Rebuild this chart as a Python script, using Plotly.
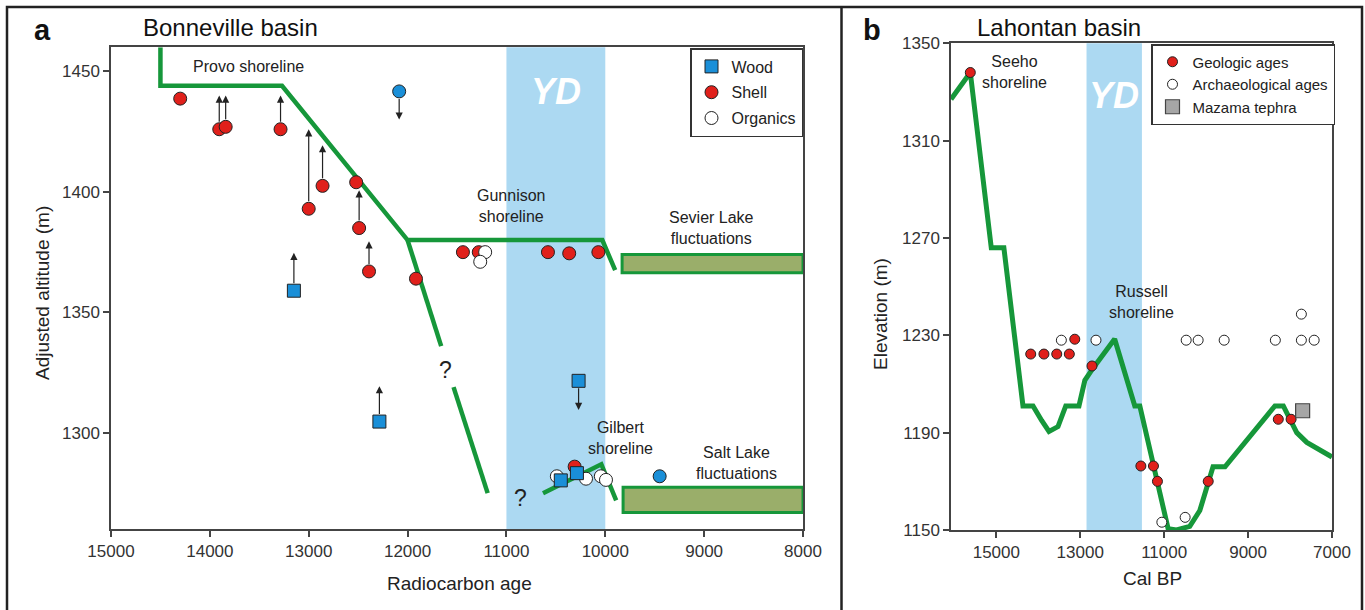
import plotly.graph_objects as go

W, H = 1365, 610
FONT = "Liberation Sans, Arial, sans-serif"
GREEN = "#16973a"
RED = "#e0201b"
BLUE = "#1a8fd8"
YD_COLOR = "#acd9f2"
FILL = "#9aae6a"
AXC = "#444444"

# ---------------- Panel a: Bonneville basin ----------------
YD_A = [11000, 10000]
provo_x = [14500, 14500, 13270, 12000, 10030, 9900]
provo_y = [1460, 1444, 1444, 1380, 1380, 1367.5]
desc1_x = [12000, 11660]
desc1_y = [1380, 1336]
desc2_x = [11535, 11190]
desc2_y = [1319, 1275]
gilbert_x = [10630, 10040, 9890]
gilbert_y = [1275, 1287, 1272]

sevier_x = [9830, 8000]
sevier_y = [1366.5, 1374]
saltlake_x = [9820, 8000]
saltlake_y = [1267, 1277.4]

shell_x = [14300, 13905, 13840, 13285, 13000, 12860, 12520, 12490, 12390, 11915,
           11440, 11280, 10580, 10365, 10070, 10310]
shell_y = [1438.7, 1426, 1427, 1426, 1393, 1402.5, 1404, 1385, 1367, 1364,
           1375, 1375, 1375, 1374.5, 1375, 1286]
organics_x = [11215, 11265, 10490, 10195, 10045, 9993]
organics_y = [1375, 1371, 1282, 1281, 1282, 1280.5]
wood_x = [13150, 12285, 10270, 10450, 10287]
wood_y = [1359, 1304.7, 1321.6, 1280.3, 1283.3]
bluecirc_x = [12085, 9450]
bluecirc_y = [1441.7, 1282]

arrow_x = [13905, 13840, 13285, 13000, 12860, 12490, 12390, 13150, 12285, 12085, 10270]
arrow_from = [1426, 1427, 1426, 1393, 1402.5, 1385, 1367, 1359, 1304.7, 1441.7, 1321.6]
arrow_to = [1440, 1440, 1440, 1426, 1419.4, 1400.7, 1379.5, 1374.7, 1319.4, 1430, 1309.5]

xticks_a = [15000, 14000, 13000, 12000, 11000, 10000, 9000, 8000]
yticks_a = [1300, 1350, 1400, 1450]

# ---------------- Panel b: Lahontan basin ----------------
YD_B = [12850, 11530]
lah_x = [16080, 15620, 15120, 14820, 14365, 14125, 13920, 13745, 13530, 13345, 13030,
         12890, 12695, 12180, 11700, 11580, 10905, 10705, 10390, 10150, 9835, 9550,
         8360, 8160, 7840, 7600, 7000]
lah_y = [1327, 1338, 1266, 1266, 1201, 1201, 1195, 1190.5, 1192.5, 1201, 1201,
         1211.5, 1216.5, 1228.5, 1201, 1201, 1150.5, 1150, 1151.5, 1158, 1176, 1176,
         1201, 1201, 1190, 1186, 1180]
geo_x = [15620, 14180, 13865, 13560, 13260, 13130, 12720, 11555, 11255, 11160, 9950, 8280, 7975]
geo_y = [1338, 1222.3, 1222.3, 1222.3, 1222.3, 1228.4, 1217.4, 1176.3, 1176.3, 1170, 1170,
         1195.5, 1195.5]
arch_x = [13450, 12625, 10475, 10190, 9570, 8350, 7730, 7425, 7730, 11055, 10500]
arch_y = [1228, 1228, 1228, 1228, 1228, 1228, 1228, 1228, 1238.7, 1153.2, 1155.2]
mazama_x = [7700]
mazama_y = [1199]

xticks_b = [15000, 13000, 11000, 9000, 7000]
yticks_b = [1150, 1190, 1230, 1270, 1310, 1350]

fig = go.Figure()

def line(x, y, xa, ya, w):
    fig.add_trace(go.Scatter(x=x, y=y, mode="lines", xaxis=xa, yaxis=ya,
                             line=dict(color=GREEN, width=w), showlegend=False,
                             hoverinfo="skip"))

line(provo_x, provo_y, "x", "y", 4.5)
line(desc1_x, desc1_y, "x", "y", 4.5)
line(desc2_x, desc2_y, "x", "y", 4.5)
line(gilbert_x, gilbert_y, "x", "y", 4.5)
line(lah_x, lah_y, "x2", "y2", 5)

outline = dict(color="#222222", width=1)
fig.add_trace(go.Scatter(x=shell_x, y=shell_y, mode="markers", name="Shell",
                         xaxis="x", yaxis="y", legend="legend", legendgroup="s",
                         legendrank=2,
                         marker=dict(symbol="circle", size=13, color=RED, line=outline)))
fig.add_trace(go.Scatter(x=organics_x, y=organics_y, mode="markers", name="Organics",
                         xaxis="x", yaxis="y", legend="legend", legendgroup="o",
                         legendrank=3,
                         marker=dict(symbol="circle", size=13, color="white", line=outline)))
fig.add_trace(go.Scatter(x=bluecirc_x, y=bluecirc_y, mode="markers", showlegend=False,
                         xaxis="x", yaxis="y",
                         marker=dict(symbol="circle", size=13, color=BLUE, line=outline)))
fig.add_trace(go.Scatter(x=wood_x, y=wood_y, mode="markers", name="Wood",
                         xaxis="x", yaxis="y", legend="legend", legendgroup="w",
                         legendrank=1,
                         marker=dict(symbol="square", size=13, color=BLUE, line=outline)))

fig.add_trace(go.Scatter(x=geo_x, y=geo_y, mode="markers", name="Geologic ages",
                         xaxis="x2", yaxis="y2", legend="legend2", legendgroup="g",
                         legendrank=1,
                         marker=dict(symbol="circle", size=10, color=RED, line=outline)))
fig.add_trace(go.Scatter(x=arch_x, y=arch_y, mode="markers", name="Archaeological ages",
                         xaxis="x2", yaxis="y2", legend="legend2", legendgroup="ar",
                         legendrank=2,
                         marker=dict(symbol="circle", size=10, color="white", line=outline)))
fig.add_trace(go.Scatter(x=mazama_x, y=mazama_y, mode="markers", name="Mazama tephra",
                         xaxis="x2", yaxis="y2", legend="legend2", legendgroup="m",
                         legendrank=3,
                         marker=dict(symbol="square", size=14, color="#a6a6a6",
                                     line=dict(color="#444444", width=1.2))))

shapes = []
# YD bands
shapes.append(dict(type="rect", xref="x", yref="y domain", x0=YD_A[0], x1=YD_A[1],
                   y0=0, y1=1, fillcolor=YD_COLOR, line=dict(width=0), layer="below"))
shapes.append(dict(type="rect", xref="x2", yref="y2 domain", x0=YD_B[0], x1=YD_B[1],
                   y0=0, y1=1, fillcolor=YD_COLOR, line=dict(width=0), layer="below"))
# Lake fluctuation boxes
for bx, by in [(sevier_x, sevier_y), (saltlake_x, saltlake_y)]:
    shapes.append(dict(type="rect", xref="x", yref="y", x0=bx[0], x1=bx[1],
                       y0=by[0], y1=by[1], fillcolor=FILL,
                       line=dict(color=GREEN, width=3), layer="above"))
# outer frame and divider
shapes.append(dict(type="rect", xref="paper", yref="paper", x0=7 / W, x1=1362 / W,
                   y0=-0.1, y1=1 - 7 / H, line=dict(color="#222222", width=2.5)))
shapes.append(dict(type="line", xref="paper", yref="paper", x0=841.5 / W, x1=841.5 / W,
                   y0=-0.1, y1=1 - 7 / H, line=dict(color="#222222", width=2.5)))

ann = []
# arrows
for ax_, y0, y1 in zip(arrow_x, arrow_from, arrow_to):
    ann.append(dict(x=ax_, y=y1, ax=ax_, ay=y0, xref="x", yref="y", axref="x", ayref="y",
                    text="", showarrow=True, arrowhead=2, arrowsize=1.2, arrowwidth=1.2,
                    arrowcolor="#222222", startstandoff=6))

def txt(text, x, y, xref, yref, size=16, color="#222222", **kw):
    d = dict(text=text, x=x, y=y, xref=xref, yref=yref, showarrow=False,
             xanchor="center", yanchor="middle",
             font=dict(family=FONT, size=size, color=color))
    d.update(kw)
    ann.append(d)

# panel a texts
txt("Provo shoreline", 13613, 1452, "x", "y")
txt("Gunnison<br>shoreline", 10951, 1394, "x", "y")
txt("Sevier Lake<br>fluctuations", 8930, 1385, "x", "y")
txt("Gilbert<br>shoreline", 9848, 1298, "x", "y")
txt("Salt Lake<br>fluctuations", 8674, 1287.5, "x", "y")
txt("?", 11620, 1326, "x", "y", size=23)
txt("?", 10860, 1273, "x", "y", size=23)
txt("<b><i>YD</i></b>", (YD_A[0] + YD_A[1]) / 2, 1441.5, "x", "y", size=36, color="white")
# panel b texts
txt("Seeho<br>shoreline", 14563, 1338.2, "x2", "y2")
txt("Russell<br>shoreline", 11539, 1243.7, "x2", "y2")
txt("<b><i>YD</i></b>", (YD_B[0] + YD_B[1]) / 2, 1328.5, "x2", "y2", size=36, color="white")

# titles, panel letters, axis titles
txt("Bonneville basin", 230 / W, 1 - 27 / H, "paper", "paper", size=24, color="#111111")
txt("Lahontan basin", 1059 / W, 1 - 27 / H, "paper", "paper", size=24, color="#111111")
txt("<b>a</b>", 42 / W, 1 - 30 / H, "paper", "paper", size=29, color="#111111")
txt("<b>b</b>", 872 / W, 1 - 30 / H, "paper", "paper", size=29, color="#111111")
txt("Radiocarbon age", 459 / W, 1 - 583 / H, "paper", "paper", size=19)
txt("Cal BP", 1152 / W, 1 - 578 / H, "paper", "paper", size=19)
txt("Adjusted altitude (m)", 42 / W, 1 - 293 / H, "paper", "paper", size=19, textangle=-90)
txt("Elevation (m)", 880 / W, 1 - 314 / H, "paper", "paper", size=19, textangle=-90)

axis_common = dict(showgrid=False, zeroline=False, showline=True, linecolor=AXC,
                   linewidth=1.5, mirror=True, ticks="outside", ticklen=6,
                   tickcolor=AXC, tickwidth=1.5, automargin=False,
                   tickfont=dict(family=FONT, size=17, color="#333333"))

fig.update_layout(
    width=W, height=H, margin=dict(l=0, r=0, t=0, b=0, autoexpand=False),
    paper_bgcolor="white", plot_bgcolor="white",
    font=dict(family=FONT, color="#222222"),
    xaxis=dict(domain=[111 / W, 803 / W], range=[15000, 8000], anchor="y",
               tickvals=xticks_a, ticktext=[str(v) for v in xticks_a], **axis_common),
    yaxis=dict(domain=[1 - 529.3 / H, 1 - 47.3 / H], range=[1260, 1460], anchor="x",
               tickvals=yticks_a, ticktext=[str(v) for v in yticks_a], **axis_common),
    xaxis2=dict(domain=[951 / W, 1332 / W], range=[16080, 7000], anchor="y2",
                tickvals=xticks_b, ticktext=[str(v) for v in xticks_b], **axis_common),
    yaxis2=dict(domain=[1 - 530 / H, 1 - 43.3 / H], range=[1150, 1350], anchor="x2",
                tickvals=yticks_b, ticktext=[str(v) for v in yticks_b], **axis_common),
    legend=dict(x=803 / W, xanchor="right", y=1 - 48 / H, yanchor="top",
                bgcolor="white", bordercolor="#333333", borderwidth=1.5,
                font=dict(family=FONT, size=16, color="#222222"),
                traceorder="grouped", tracegroupgap=2, itemwidth=30),
    legend2=dict(x=1335 / W, xanchor="right", y=1 - 44 / H, yanchor="top",
                 bgcolor="white", bordercolor="#333333", borderwidth=1.5,
                 font=dict(family=FONT, size=15, color="#222222"),
                 traceorder="grouped", tracegroupgap=0, itemwidth=30),
    shapes=shapes, annotations=ann, showlegend=True,
)

fig.write_html("out.html", config={"displayModeBar": False},
               post_script="document.body.style.margin='0px';"
                           "document.body.style.padding='0px';")
